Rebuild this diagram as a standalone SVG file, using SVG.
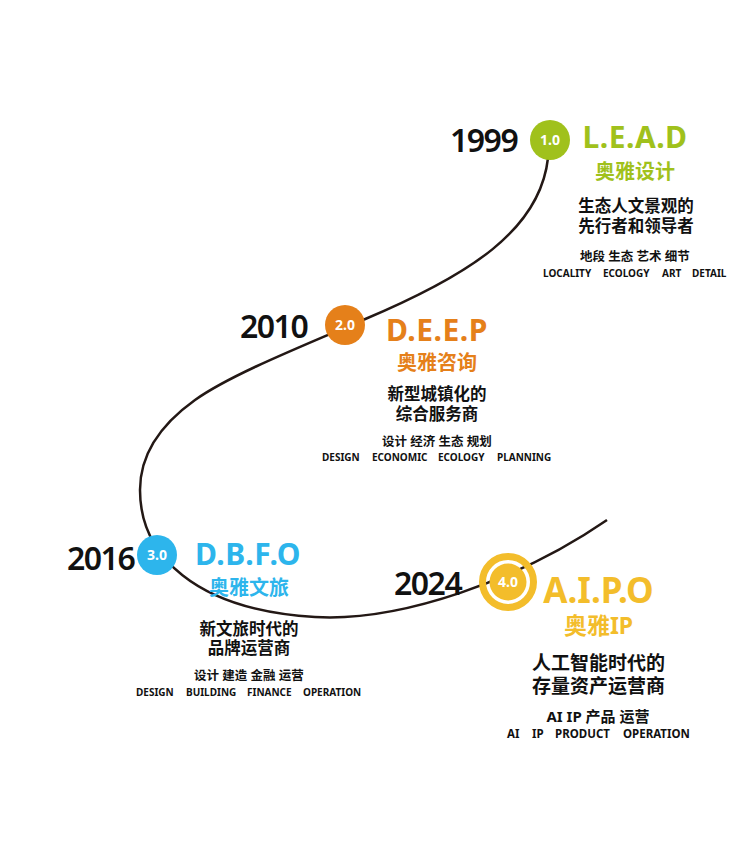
<svg xmlns="http://www.w3.org/2000/svg" width="750" height="858" viewBox="0 0 750 858">
<style>
.year{font-family:"Noto Sans","Liberation Sans",sans-serif;font-size:32px;font-weight:600;letter-spacing:-1.5px;fill:#111;}
.num{font-family:"Noto Sans","Liberation Sans",sans-serif;font-size:14px;font-weight:700;fill:#fff;text-anchor:middle;}
.title{font-family:"Noto Sans","Liberation Sans",sans-serif;font-size:30px;font-weight:700;letter-spacing:0.5px;text-anchor:middle;}
.sub{font-family:"Noto Sans","Noto Sans CJK SC",sans-serif;font-size:20px;font-weight:700;text-anchor:middle;}
.desc{font-family:"Noto Sans CJK SC",sans-serif;font-size:16.5px;font-weight:700;fill:#111;text-anchor:middle;}
.tag{font-family:"Noto Sans","Noto Sans CJK SC",sans-serif;font-size:12.5px;font-weight:700;fill:#111;text-anchor:middle;}
.en{font-family:"Noto Sans","Liberation Sans",sans-serif;font-size:10px;font-weight:700;fill:#111;}
.g{fill:#a0c11c;} .o{fill:#e5801a;} .b{fill:#2db5ec;} .y{fill:#f3bd2b;}
</style>
<g id="connectors">
<path d="M548,158 C540,230 470,275 363,320 C300,347 230,375 195,400 C160,425 140,455 140,490 C140,555 195,610 315,617 C400,622 520,580 607,520" fill="none" stroke="#231815" stroke-width="2.5"/>
</g>
<g id="node-1">
<text class="year" x="450" y="152">1999</text>
<circle cx="550" cy="140" r="20" class="g"/>
<text class="num" x="550" y="145">1.0</text>
<text class="title g" x="635" y="148">L.E.A.D</text>
<text class="sub g" x="635" y="179">奥雅设计</text>
<text class="desc" x="636" y="212">生态人文景观的</text>
<text class="desc" x="636" y="232">先行者和领导者</text>
<text class="tag" x="635" y="261">地段 生态 艺术 细节</text>
<text class="en" x="543" y="277">LOCALITY</text>
<text class="en" x="603" y="277">ECOLOGY</text>
<text class="en" x="662" y="277">ART</text>
<text class="en" x="692" y="277">DETAIL</text>
</g>
<g id="node-2">
<text class="year" x="240" y="338">2010</text>
<circle cx="345" cy="325" r="20" class="o"/>
<text class="num" x="345" y="330">2.0</text>
<text class="title o" x="437" y="341">D.E.E.P</text>
<text class="sub o" x="437" y="370">奥雅咨询</text>
<text class="desc" x="437" y="400">新型城镇化的</text>
<text class="desc" x="437" y="420">综合服务商</text>
<text class="tag" x="437" y="446">设计 经济 生态 规划</text>
<text class="en" x="322" y="461">DESIGN</text>
<text class="en" x="372" y="461">ECONOMIC</text>
<text class="en" x="438" y="461">ECOLOGY</text>
<text class="en" x="497" y="461">PLANNING</text>
</g>
<g id="node-3">
<text class="year" x="67" y="570">2016</text>
<circle cx="157" cy="555" r="20" class="b"/>
<text class="num" x="157" y="560">3.0</text>
<text class="title b" x="248" y="565">D.B.F.O</text>
<text class="sub b" x="249" y="595">奥雅文旅</text>
<text class="desc" x="249" y="635">新文旅时代的</text>
<text class="desc" x="249" y="654">品牌运营商</text>
<text class="tag" x="249" y="680">设计 建造 金融 运营</text>
<text class="en" x="136" y="696">DESIGN</text>
<text class="en" x="186" y="696">BUILDING</text>
<text class="en" x="247" y="696">FINANCE</text>
<text class="en" x="303" y="696">OPERATION</text>
</g>
<g id="node-4">
<text class="year" x="394" y="595">2024</text>
<circle cx="508" cy="582" r="25.5" fill="none" stroke="#f3bd2b" stroke-width="7"/>
<circle cx="508" cy="582" r="18.5" class="y"/>
<text class="num" x="508" y="587">4.0</text>
<text class="title y" x="598.5" y="603" style="font-size:35px;letter-spacing:0">A.I.P.O</text>
<text class="sub y" x="598.5" y="634" style="font-size:23px">奥雅IP</text>
<text class="desc" x="598.5" y="670" style="font-size:19px">人工智能时代的</text>
<text class="desc" x="598.5" y="693" style="font-size:19px">存量资产运营商</text>
<text class="tag" x="598" y="722" style="font-size:15px">AI  IP 产品 运营</text>
<text class="en" x="507" y="738" style="font-size:11.5px">AI</text>
<text class="en" x="532" y="738" style="font-size:11.5px">IP</text>
<text class="en" x="555" y="738" style="font-size:11.5px">PRODUCT</text>
<text class="en" x="623" y="738" style="font-size:11.5px">OPERATION</text>
</g>
</svg>
